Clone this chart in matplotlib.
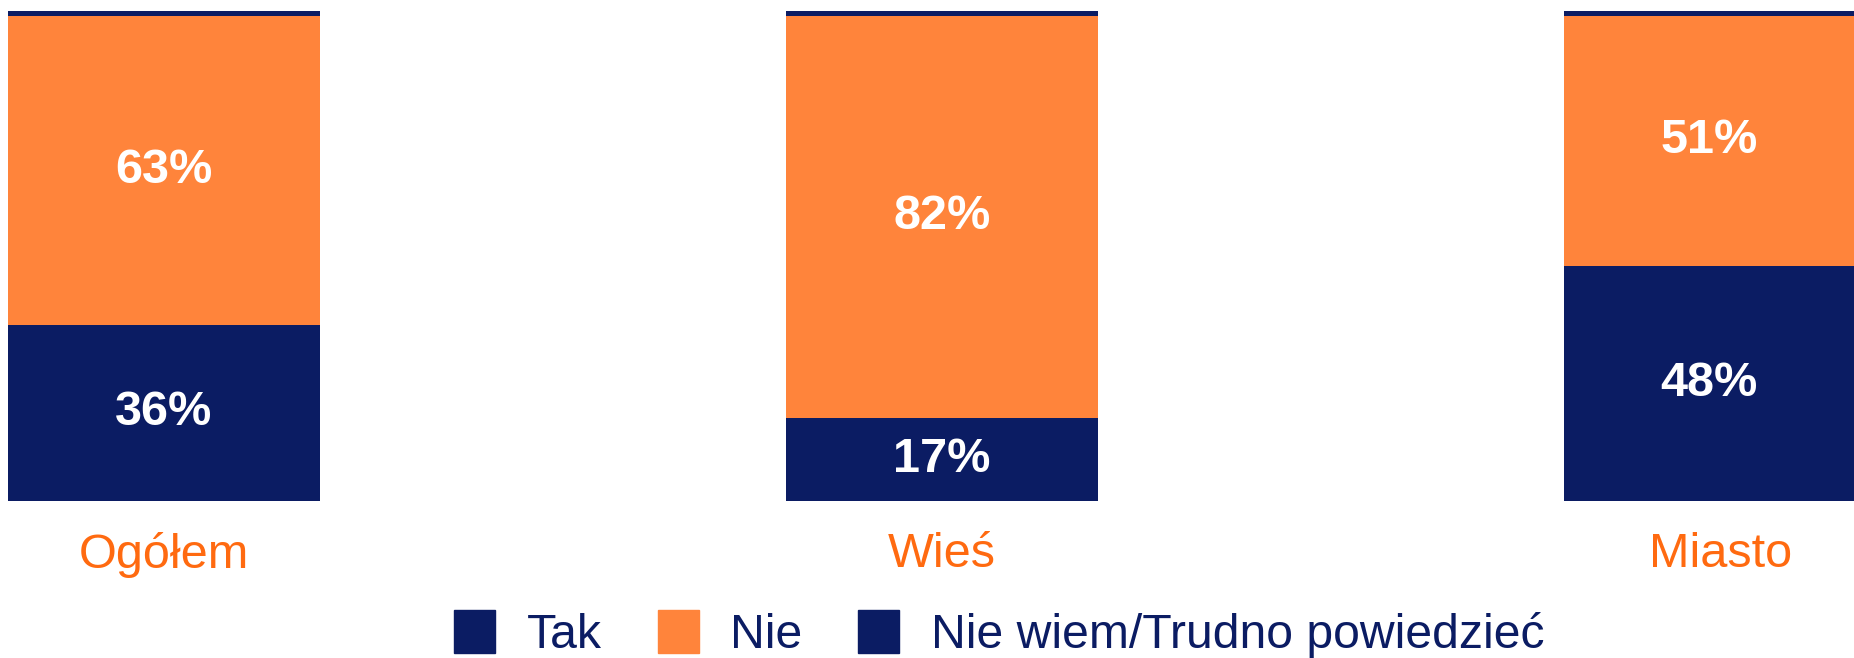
import matplotlib.pyplot as plt
from matplotlib.patches import Rectangle
import numpy as np

plt.rcParams['font.family'] = ['Liberation Sans', 'DejaVu Sans']

# data
categories = ['Ogółem', 'Wieś', 'Miasto']
tak = [36, 17, 48]
nie = [63, 82, 51]
nie_wiem = [1, 1, 1]
series_names = ['Tak', 'Nie', 'Nie wiem/Trudno powiedzieć']

navy = '#0B1C63'
orange = '#FF843B'
label_orange = '#FF6A10'

fig = plt.figure(figsize=(18.54, 6.58), dpi=100)
ax = fig.add_axes([0, 0.2386, 1, 0.7447])

x = np.arange(len(categories))
w = 0.401
b1 = ax.bar(x, tak, w, color=navy)
b2 = ax.bar(x, nie, w, bottom=tak, color=orange)
ax.bar(x, nie_wiem, w, bottom=np.add(tak, nie), color=navy)

for bars in (b1, b2):
    ax.bar_label(bars, fmt='%d%%', label_type='center', color='white',
                 fontsize=35, fontweight='bold')

ax.set_xlim(-0.2108, 2.172)
ax.set_ylim(0, 100)
ax.set_xticks(x, categories)
ax.tick_params(axis='x', length=0, pad=22, labelsize=35, labelcolor=label_orange)
ax.set_yticks([])
for s in ax.spines.values():
    s.set_visible(False)

# legend
handles = [Rectangle((0, 0), 1, 1, color=c) for c in (navy, orange, navy)]
fig.legend(handles, series_names, loc='center', bbox_to_anchor=(0.539, 0.036),
           ncol=3, frameon=False, fontsize=34.7, labelcolor=navy,
           handlelength=0.85, handleheight=1.0, handletextpad=0.66,
           columnspacing=1.15, borderpad=0, borderaxespad=0)

fig.savefig('out.png', dpi=100)
